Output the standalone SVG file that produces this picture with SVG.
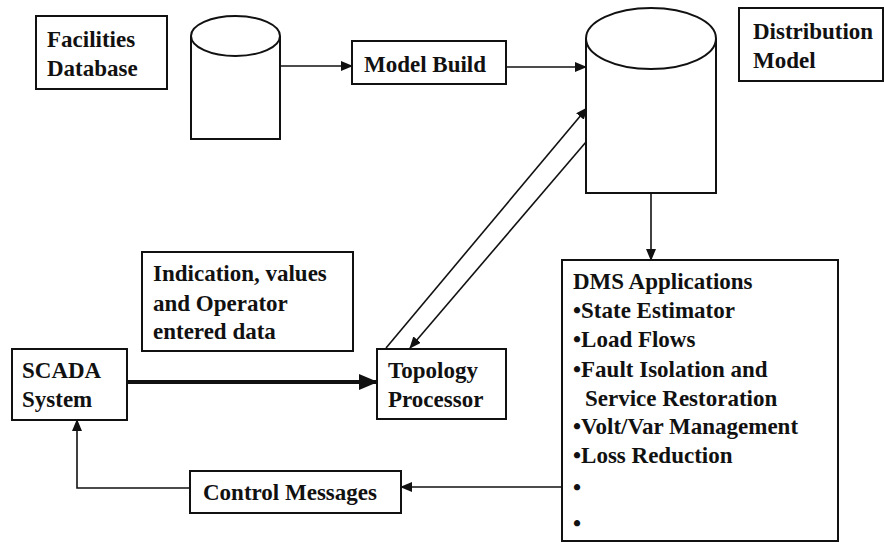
<svg xmlns="http://www.w3.org/2000/svg" width="884" height="543" viewBox="0 0 884 543">
<style>
.box{fill:#fff;stroke:#111;stroke-width:2}
.cyl{fill:#fff;stroke:#111;stroke-width:2}
.c{fill:none;stroke:#111;stroke-width:1.6}
</style>
<defs>
<marker id="ah" markerUnits="userSpaceOnUse" markerWidth="12" markerHeight="10" refX="11" refY="5" orient="auto">
<path d="M0,0 L12,5 L0,10 Z" fill="#111"/>
</marker>
<marker id="ahb" markerUnits="userSpaceOnUse" markerWidth="19" markerHeight="16" refX="18" refY="8" orient="auto">
<path d="M0,0 L19,8 L0,16 Z" fill="#111"/>
</marker>
</defs>
<rect width="884" height="543" fill="#fff"/>
<g id="connectors">
<line class="c" x1="280" y1="66" x2="352" y2="66" marker-end="url(#ah)"/>
<line class="c" x1="506" y1="67" x2="586" y2="67" marker-end="url(#ah)"/>
<line class="c" x1="386" y1="348" x2="587" y2="108" marker-end="url(#ah)"/>
<line class="c" x1="586" y1="142" x2="410" y2="348" marker-end="url(#ah)"/>
<line class="c" x1="651" y1="154" x2="651" y2="260" marker-end="url(#ah)"/>
<line x1="127" y1="382" x2="377" y2="382" stroke="#111" stroke-width="4" marker-end="url(#ahb)"/>
<line class="c" x1="562" y1="487" x2="401" y2="487" marker-end="url(#ah)"/>
<polyline class="c" points="190,488 77,488 77,420" marker-end="url(#ah)"/>
</g>
<g font-family="Liberation Serif, Times New Roman, DejaVu Serif, serif" font-weight="bold" font-size="23" fill="#111">
<g id="facilities-database">
<rect class="box" x="36" y="16" width="131" height="73"/>
<text x="47" y="47">Facilities</text>
<text x="47" y="76">Database</text>
</g>
<g id="cylinder-facilities">
<path class="cyl" d="M191,36 L191,139 L280,139 L280,36"/>
<ellipse class="cyl" cx="235.5" cy="36" rx="44.5" ry="20"/>
</g>
<g id="model-build">
<rect class="box" x="352" y="41" width="154" height="43"/>
<text x="364" y="72">Model Build</text>
</g>
<g id="cylinder-distribution">
<path class="cyl" d="M586,38.5 L586,193 L716,193 L716,38.5"/>
<ellipse class="cyl" cx="651" cy="38.5" rx="65" ry="30.5"/>
</g>
<g id="distribution-model">
<rect class="box" x="739" y="8" width="144" height="73"/>
<text x="753" y="39">Distribution</text>
<text x="753" y="68">Model</text>
</g>
<g id="indication">
<rect class="box" x="142" y="252" width="211" height="99"/>
<text x="153" y="281">Indication, values</text>
<text x="153" y="311">and Operator</text>
<text x="153" y="339">entered data</text>
</g>
<g id="scada">
<rect class="box" x="12" y="349" width="115" height="71"/>
<text x="22" y="378">SCADA</text>
<text x="22" y="407">System</text>
</g>
<g id="topology">
<rect class="box" x="377" y="349" width="129" height="70"/>
<text x="388" y="378">Topology</text>
<text x="388" y="407">Processor</text>
</g>
<g id="dms">
<rect class="box" x="562" y="260" width="276" height="281"/>
<text x="573" y="289">DMS Applications</text>
<text x="573" y="318">•State Estimator</text>
<text x="573" y="347">•Load Flows</text>
<text x="573" y="377">•Fault Isolation and</text>
<text x="585" y="406">Service Restoration</text>
<text x="573" y="434">•Volt/Var Management</text>
<text x="573" y="463">•Loss Reduction</text>
<text x="573" y="495">•</text>
<text x="573" y="531">•</text>
</g>
<g id="control-messages">
<rect class="box" x="190" y="471" width="211" height="42"/>
<text x="203" y="500">Control Messages</text>
</g>
</g>
</svg>
